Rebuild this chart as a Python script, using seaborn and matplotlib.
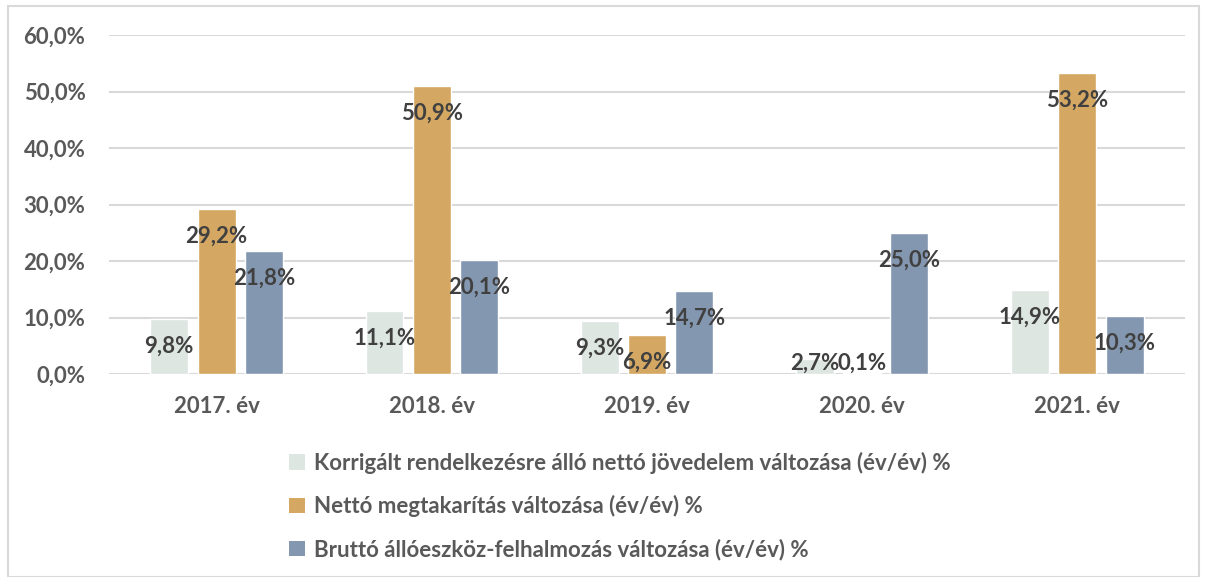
import matplotlib
matplotlib.use("Agg")
import matplotlib.pyplot as plt
import seaborn as sns
import pandas as pd
from matplotlib.patches import Rectangle, Patch

# ─── data ───────────────────────────────────────────────────────────────────
YEARS = ["2017. év", "2018. év", "2019. év", "2020. év", "2021. év"]
SERIES = [
    "Korrigált rendelkezésre álló nettó jövedelem változása (év/év) %",
    "Nettó megtakarítás változása (év/év) %",
    "Bruttó állóeszköz-felhalmozás változása (év/év) %",
]
JOVEDELEM = [9.8, 11.1, 9.3, 2.7, 14.9]
MEGTAKARITAS = [29.2, 50.9, 6.9, 0.1, 53.2]
FELHALMOZAS = [21.8, 20.1, 14.7, 25.0, 10.3]
COLORS = ["#DEE6E2", "#D4A762", "#8497B0"]

rows = []
for s, vals in zip(SERIES, [JOVEDELEM, MEGTAKARITAS, FELHALMOZAS]):
    for y, v in zip(YEARS, vals):
        rows.append({"year": y, "series": s, "value": v})
df = pd.DataFrame(rows)

FS = 16

# ─── plot ───────────────────────────────────────────────────────────────────
sns.set_style("white")
plt.rcParams["font.family"] = ["Lato", "DejaVu Sans"]

fig = plt.figure(figsize=(12.09, 5.77), dpi=100)
ax = fig.add_axes([0.0902, 0.3518, 0.8898, 0.5875])

sns.barplot(data=df, x="year", y="value", hue="series", order=YEARS,
            hue_order=SERIES, palette=COLORS, width=0.66, gap=0.2,
            saturation=1, ax=ax, legend=False, zorder=3)

ax.set_ylim(0, 60)
ax.set_yticks(range(0, 61, 10))
ax.set_yticklabels([f"{t:.1f}%".replace(".", ",") for t in range(0, 61, 10)])
ax.set_xlim(-0.5, len(YEARS) - 0.5)
ax.grid(axis="y", color="#D9D9D9", lw=1.5, zorder=0)
ax.set_xlabel(""); ax.set_ylabel("")
for sp in ax.spines.values():
    sp.set_visible(False)
ax.tick_params(axis="both", length=0, labelsize=FS, labelcolor="#595959")
ax.tick_params(axis="x", pad=16)
ax.tick_params(axis="y", pad=17)
for lbl in ax.get_xticklabels() + ax.get_yticklabels():
    lbl.set_fontweight("bold")

# data labels, inside end
for cont in ax.containers:
    for bar in cont:
        v = bar.get_height()
        cx = bar.get_x() + bar.get_width() / 2
        ax.text(cx, max(v - 4.8, 2.0), f"{v:.1f}%".replace(".", ","),
                ha="center", va="center", fontsize=FS, fontweight="bold",
                color="#404040", zorder=5)

handles = [Patch(facecolor=c, edgecolor="none") for c in COLORS]
leg = fig.legend(handles, SERIES, loc="upper left", bbox_to_anchor=(0.232, 0.233),
                 frameon=False, fontsize=FS, handlelength=0.7, handleheight=0.7,
                 handletextpad=0.4, labelspacing=0.97, borderaxespad=0)
for t in leg.get_texts():
    t.set_color("#595959"); t.set_fontweight("bold")

fig.patches.append(Rectangle((8 / 1209, 0), 1191 / 1209, 1 - 6 / 577,
                             transform=fig.transFigure, fill=False,
                             edgecolor="#D9D9D9", lw=1.5))

fig.savefig("out.png", dpi=100)
plt.close(fig)
